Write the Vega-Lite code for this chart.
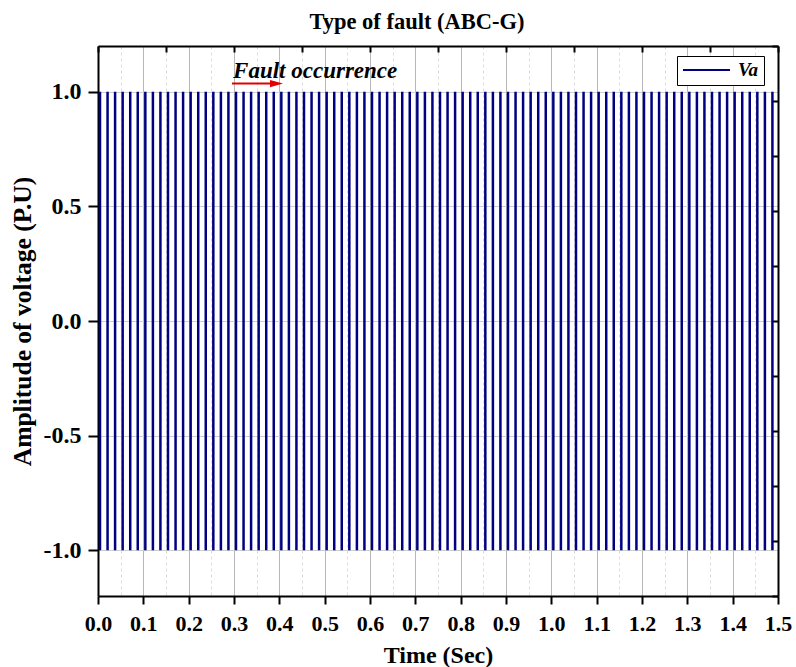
{
  "$schema": "https://vega.github.io/schema/vega-lite/v6.json",
  "width": 680,
  "height": 550,
  "autosize": "none",
  "padding": {"left": 98, "top": 46, "right": 18, "bottom": 71},
  "config": {"view": {"stroke": null}, "font": "Liberation Serif"},
  "title": {"text": "Type of fault (ABC-G)", "font": "Liberation Serif", "fontSize": 22.5, "fontWeight": "bold", "color": "black", "dx": -21, "offset": -6, "baseline": "alphabetic"},
  "datasets": {
    "va": [
      {"t":0.0044,"lo":-1,"hi":1},{"t":0.0211,"lo":-1,"hi":1},{"t":0.0377,"lo":-1,"hi":1},
      {"t":0.0544,"lo":-1,"hi":1},{"t":0.0711,"lo":-1,"hi":1},{"t":0.0877,"lo":-1,"hi":1},
      {"t":0.1044,"lo":-1,"hi":1},{"t":0.1211,"lo":-1,"hi":1},{"t":0.1377,"lo":-1,"hi":1},
      {"t":0.1544,"lo":-1,"hi":1},{"t":0.1711,"lo":-1,"hi":1},{"t":0.1877,"lo":-1,"hi":1},
      {"t":0.2044,"lo":-1,"hi":1},{"t":0.2211,"lo":-1,"hi":1},{"t":0.2377,"lo":-1,"hi":1},
      {"t":0.2544,"lo":-1,"hi":1},{"t":0.2711,"lo":-1,"hi":1},{"t":0.2877,"lo":-1,"hi":1},
      {"t":0.3044,"lo":-1,"hi":1},{"t":0.3211,"lo":-1,"hi":1},{"t":0.3377,"lo":-1,"hi":1},
      {"t":0.3544,"lo":-1,"hi":1},{"t":0.3711,"lo":-1,"hi":1},{"t":0.3877,"lo":-1,"hi":1},
      {"t":0.4044,"lo":-1,"hi":1},{"t":0.4211,"lo":-1,"hi":1},{"t":0.4377,"lo":-1,"hi":1},
      {"t":0.4544,"lo":-1,"hi":1},{"t":0.4711,"lo":-1,"hi":1},{"t":0.4877,"lo":-1,"hi":1},
      {"t":0.5044,"lo":-1,"hi":1},{"t":0.5211,"lo":-1,"hi":1},{"t":0.5377,"lo":-1,"hi":1},
      {"t":0.5544,"lo":-1,"hi":1},{"t":0.5711,"lo":-1,"hi":1},{"t":0.5877,"lo":-1,"hi":1},
      {"t":0.6044,"lo":-1,"hi":1},{"t":0.6211,"lo":-1,"hi":1},{"t":0.6377,"lo":-1,"hi":1},
      {"t":0.6544,"lo":-1,"hi":1},{"t":0.6711,"lo":-1,"hi":1},{"t":0.6877,"lo":-1,"hi":1},
      {"t":0.7044,"lo":-1,"hi":1},{"t":0.7211,"lo":-1,"hi":1},{"t":0.7377,"lo":-1,"hi":1},
      {"t":0.7544,"lo":-1,"hi":1},{"t":0.7711,"lo":-1,"hi":1},{"t":0.7877,"lo":-1,"hi":1},
      {"t":0.8044,"lo":-1,"hi":1},{"t":0.8211,"lo":-1,"hi":1},{"t":0.8377,"lo":-1,"hi":1},
      {"t":0.8544,"lo":-1,"hi":1},{"t":0.8711,"lo":-1,"hi":1},{"t":0.8877,"lo":-1,"hi":1},
      {"t":0.9044,"lo":-1,"hi":1},{"t":0.9211,"lo":-1,"hi":1},{"t":0.9377,"lo":-1,"hi":1},
      {"t":0.9544,"lo":-1,"hi":1},{"t":0.9711,"lo":-1,"hi":1},{"t":0.9877,"lo":-1,"hi":1},
      {"t":1.0044,"lo":-1,"hi":1},{"t":1.0211,"lo":-1,"hi":1},{"t":1.0377,"lo":-1,"hi":1},
      {"t":1.0544,"lo":-1,"hi":1},{"t":1.0711,"lo":-1,"hi":1},{"t":1.0877,"lo":-1,"hi":1},
      {"t":1.1044,"lo":-1,"hi":1},{"t":1.1211,"lo":-1,"hi":1},{"t":1.1377,"lo":-1,"hi":1},
      {"t":1.1544,"lo":-1,"hi":1},{"t":1.1711,"lo":-1,"hi":1},{"t":1.1877,"lo":-1,"hi":1},
      {"t":1.2044,"lo":-1,"hi":1},{"t":1.2211,"lo":-1,"hi":1},{"t":1.2377,"lo":-1,"hi":1},
      {"t":1.2544,"lo":-1,"hi":1},{"t":1.2711,"lo":-1,"hi":1},{"t":1.2877,"lo":-1,"hi":1},
      {"t":1.3044,"lo":-1,"hi":1},{"t":1.3211,"lo":-1,"hi":1},{"t":1.3377,"lo":-1,"hi":1},
      {"t":1.3544,"lo":-1,"hi":1},{"t":1.3711,"lo":-1,"hi":1},{"t":1.3877,"lo":-1,"hi":1},
      {"t":1.4044,"lo":-1,"hi":1},{"t":1.4211,"lo":-1,"hi":1},{"t":1.4377,"lo":-1,"hi":1},
      {"t":1.4544,"lo":-1,"hi":1},{"t":1.4711,"lo":-1,"hi":1},{"t":1.4877,"lo":-1,"hi":1}
    ],
    "note": [{"t": 0.298, "v": 1.061, "label": "Fault occurrence"}],
    "arrow": [{"t": 0.2956, "t2": 0.388, "v": 1.036, "tip": 0.3938}]
  },
  "layer": [
    {
      "data": {"name": "va"},
      "mark": {"type": "rule", "strokeWidth": 2.5, "strokeCap": "butt"},
      "encoding": {
        "x": {
          "field": "t", "type": "quantitative",
          "scale": {"domain": [0, 1.5], "nice": false, "zero": false},
          "axis": {
            "orient": "bottom",
            "title": "Time (Sec)",
            "titleFont": "Liberation Serif", "titleFontSize": 24, "titleFontWeight": "bold", "titleColor": "black", "titlePadding": 9,
            "values": [0,0.05,0.1,0.15,0.2,0.25,0.3,0.35,0.4,0.45,0.5,0.55,0.6,0.65,0.7,0.75,0.8,0.85,0.9,0.95,1,1.05,1.1,1.15,1.2,1.25,1.3,1.35,1.4,1.45,1.5],
            "labelExpr": "round(datum.value*20)%2==1 ? '' : format(datum.value, '.1f')",
            "labelFont": "Liberation Serif", "labelFontSize": 22, "labelFontWeight": "bold", "labelColor": "black",
            "labelOverlap": false, "labelFlush": false, "labelPadding": 9,
            "tickSize": 8, "tickWidth": 2, "tickColor": "black",
            "tickOpacity": {"condition": {"test": "round(datum.value*20)%2==1", "value": 0}, "value": 1},
            "domainColor": "black", "domainWidth": 2,
            "grid": true,
            "gridColor": {"condition": {"test": "round(datum.value*20)%2==1", "value": "#dcdcdc"}, "value": "#b8b8b8"},
            "gridDash": {"condition": {"test": "round(datum.value*20)%2==1", "value": [3, 3]}, "value": []},
            "gridWidth": 1
          }
        },
        "y": {
          "field": "lo", "type": "quantitative",
          "scale": {"domain": [-1.2, 1.2], "nice": false, "zero": false},
          "axis": {
            "orient": "left",
            "title": "Amplitude of voltage (P.U)",
            "titleFont": "Liberation Serif", "titleFontSize": 25.5, "titleFontWeight": "bold", "titleColor": "black", "titlePadding": 8,
            "values": [-1, -0.5, 0, 0.5, 1],
            "labelExpr": "datum.value < 0 ? '-' + format(abs(datum.value), '.1f') : format(datum.value, '.1f')",
            "labelFont": "Liberation Serif", "labelFontSize": 24, "labelFontWeight": "bold", "labelColor": "black",
            "labelPadding": 7,
            "tickSize": 10, "tickWidth": 2, "tickColor": "black",
            "domainColor": "black", "domainWidth": 2,
            "grid": true, "gridColor": "#cfcfcf", "gridWidth": 1
          }
        },
        "y2": {"field": "hi"},
        "color": {
          "datum": "Va", "type": "nominal",
          "scale": {"range": ["#000080"]},
          "legend": {
            "orient": "none", "legendX": 579, "legendY": 10,
            "title": null,
            "strokeColor": "black", "fillColor": "white", "padding": 5,
            "symbolType": "stroke", "symbolSize": 2209, "symbolStrokeWidth": 2, "symbolStrokeColor": "#000080",
            "clipHeight": 18,
            "labelFont": "Liberation Serif", "labelFontSize": 19, "labelFontWeight": "bold", "labelFontStyle": "italic", "labelColor": "black",
            "labelOffset": 7
          }
        }
      }
    },
    {
      "data": {"name": "va"},
      "mark": {"type": "rule", "strokeOpacity": 0},
      "encoding": {
        "x": {
          "field": "t", "type": "quantitative",
          "axis": {
            "orient": "top", "title": null, "labels": false, "grid": false,
            "values": [0,0.15,0.3,0.45,0.6,0.75,0.9,1.05,1.2,1.35,1.5],
            "tickSize": -6, "tickWidth": 2, "tickColor": "black",
            "domainColor": "black", "domainWidth": 2
          }
        },
        "y": {
          "field": "lo", "type": "quantitative",
          "axis": {
            "orient": "right", "title": null, "labels": false, "grid": false,
            "values": [-1.2,-0.96,-0.72,-0.48,-0.24,0,0.24,0.48,0.72,0.96,1.2],
            "tickSize": -6, "tickWidth": 2, "tickColor": "black",
            "domainColor": "black", "domainWidth": 2
          }
        }
      }
    },
    {
      "data": {"name": "note"},
      "mark": {"type": "text", "align": "left", "baseline": "alphabetic", "font": "Liberation Serif", "fontSize": 23, "fontWeight": "bold", "fontStyle": "italic", "color": "black"},
      "encoding": {
        "x": {"field": "t", "type": "quantitative", "axis": null},
        "y": {"field": "v", "type": "quantitative", "axis": null},
        "text": {"field": "label"}
      }
    },
    {
      "data": {"name": "arrow"},
      "mark": {"type": "rule", "color": "#e00000", "strokeWidth": 2},
      "encoding": {
        "x": {"field": "t", "type": "quantitative", "axis": null},
        "x2": {"field": "t2"},
        "y": {"field": "v", "type": "quantitative", "axis": null}
      }
    },
    {
      "data": {"name": "arrow"},
      "mark": {"type": "point", "shape": "M-1,-0.55L1,0L-1,0.55Z", "size": 169, "filled": true, "color": "#e00000", "opacity": 1},
      "encoding": {
        "x": {"field": "tip", "type": "quantitative", "axis": null},
        "y": {"field": "v", "type": "quantitative", "axis": null}
      }
    }
  ],
  "resolve": {"axis": {"x": "independent", "y": "independent"}}
}
